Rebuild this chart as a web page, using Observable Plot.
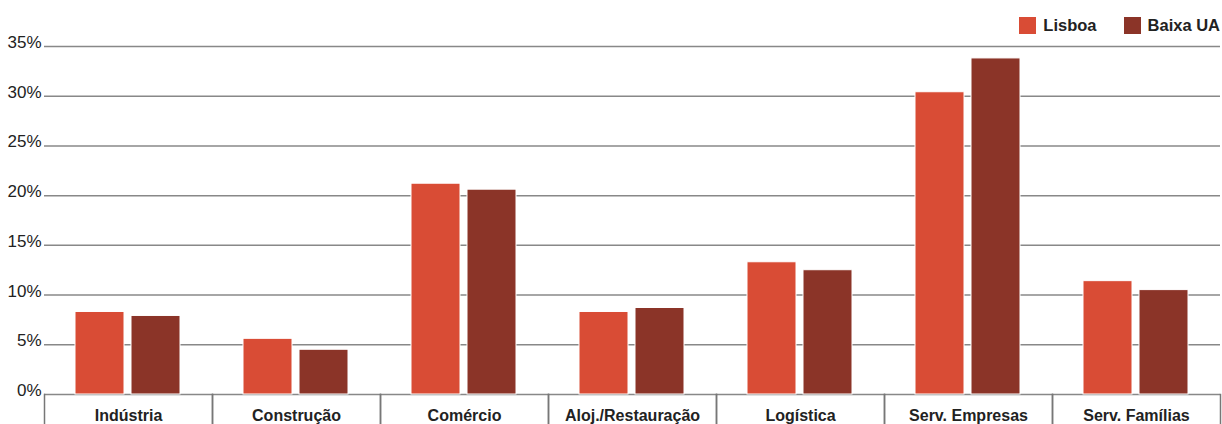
<!DOCTYPE html>
<html><head><meta charset="utf-8">
<script src="https://cdn.jsdelivr.net/npm/d3@7"></script>
<script src="https://cdn.jsdelivr.net/npm/@observablehq/plot@0.6"></script>
<style>
body{margin:0;background:#fff;font-family:"Liberation Sans Narrow","Arial Narrow",sans-serif;position:relative;}
#legend{position:absolute;top:0;left:0;height:50px;display:flex;justify-content:flex-end;align-items:center;padding-right:2px;box-sizing:border-box;width:1222px;z-index:2;}
.item{display:flex;align-items:center;font-weight:bold;font-size:16.5px;color:#222;margin-left:27px;}
.sw{width:17px;height:17px;margin-right:7px;display:inline-block;}
</style></head><body>
<div id="legend"></div>
<div id="chart"></div>
<script>
const categories = ["Indústria","Construção","Comércio","Aloj./Restauração","Logística","Serv. Empresas","Serv. Famílias"];
const series = ["Lisboa","Baixa UA"];
const lisboa = [8.3, 5.6, 21.2, 8.3, 13.3, 30.4, 11.4];
const baixa = [7.9, 4.5, 20.6, 8.7, 12.5, 33.8, 10.5];
const yTicks = [0, 5, 10, 15, 20, 25, 30, 35];
const colors = ["#d94c35", "#8b3428"];

const data = categories.flatMap((c, i) => [
  {cat: c, series: series[0], value: lisboa[i]},
  {cat: c, series: series[1], value: baixa[i]}
]);

const legend = document.getElementById("legend");
series.forEach((s, i) => {
  const it = document.createElement("div");
  it.className = "item";
  const sw = document.createElement("span");
  sw.className = "sw";
  sw.style.background = colors[i];
  it.appendChild(sw);
  it.appendChild(document.createTextNode(s));
  legend.appendChild(it);
});

const plot = Plot.plot({
  width: 1222, height: 424,
  marginTop: 46, marginBottom: 30, marginLeft: 44, marginRight: 2,
  style: {fontFamily: "Liberation Sans Narrow, Arial Narrow, sans-serif", color: "#222", background: "#fff"},
  fx: {domain: categories, padding: 0, label: null},
  x: {domain: series, paddingInner: 0.124, paddingOuter: 0.549, axis: null},
  y: {domain: [0, 35], label: null},
  color: {domain: series, range: colors},
  marks: [
    Plot.ruleY(yTicks, {stroke: "#888", strokeWidth: 1.5}),
    Plot.frame({anchor: "left", insetTop: 348, insetBottom: -30, stroke: "#777", strokeWidth: 1.5}),
    Plot.frame({anchor: "right", insetTop: 348, insetBottom: -30, stroke: "#777", strokeWidth: 1.5}),
    Plot.barY(data, {fx: "cat", x: "series", y: "value", fill: "series", stroke: "white", strokeWidth: 1}),
    Plot.axisY(yTicks, {tickSize: 0, tickPadding: 3, tickFormat: d => d + "%", fontSize: 17, dy: -4, label: null}),
    Plot.axisFx({anchor: "bottom", tickSize: 0, tickPadding: 15, fontSize: 16, fontWeight: "bold", label: null})
  ]
});
document.getElementById("chart").appendChild(plot);
</script>
</body></html>
